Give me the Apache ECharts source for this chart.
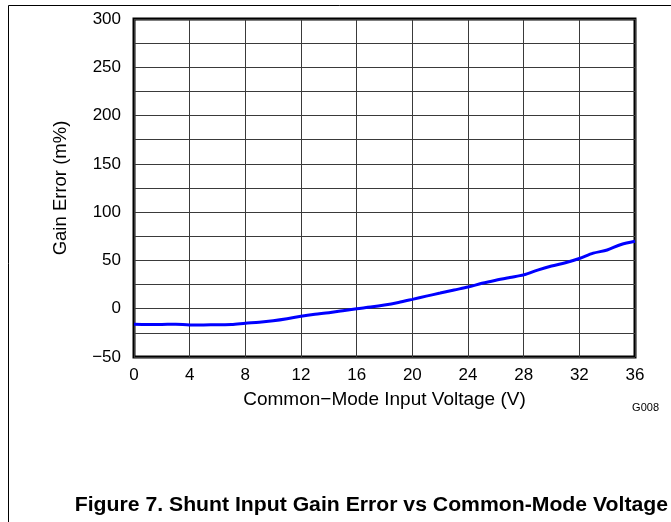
<!DOCTYPE html>
<html>
<head>
<meta charset="utf-8">
<script src="https://cdn.jsdelivr.net/npm/echarts@6/dist/echarts.min.js"></script>
<style>
  html, body { margin: 0; padding: 0; background: #fff; }
  #chart { width: 671px; height: 522px; }
</style>
</head>
<body>
<div id="chart"></div>
<script>
// common-mode voltage (V) and gain error (m%)
const voltage = [0, 1, 2, 3, 4, 5, 6, 7, 8, 9, 10, 11, 12, 13, 14, 15, 16, 17, 18,
  19, 20, 21, 22, 23, 24, 25, 26, 27, 28, 29, 30, 31, 32, 33, 34, 35, 36];
const gainError = [-16.2, -16.4, -16.3, -16, -16.9, -16.8, -16.6, -16.4, -15.1, -14, -12.4,
  -10.3, -7.8, -5.8, -4.2, -2, 0, 1.7, 3.8, 6.5, 9.7, 13, 16.2, 19.4, 22.4, 26.3, 29.5, 32.3,
  35, 40, 44.2, 47.6, 52, 57.5, 60.8, 66.5, 69.8];

const xTicks = [0, 4, 8, 12, 16, 20, 24, 28, 32, 36];
const yLabels = [-50, 0, 50, 100, 150, 200, 250, 300];

const chart = echarts.init(document.getElementById("chart"));

const fmtNum = (v) => (v < 0 ? "\u2212" + Math.abs(v) : String(v));

chart.setOption({
  animation: false,
  backgroundColor: "#fff",
  grid: {
    left: 134,
    right: 36,
    top: 19,
    bottom: 165,
    outerBoundsMode: "none",
    show: true,
    borderColor: "#000",
    borderWidth: 3,
  },
  xAxis: {
    type: "value",
    min: xTicks[0],
    max: xTicks[xTicks.length - 1],
    interval: 4,
    name: "Common\u2212Mode Input Voltage (V)",
    nameLocation: "middle",
    nameGap: 33,
    nameTextStyle: { fontFamily: "Liberation Sans", fontSize: 19, color: "#000" },
    axisLine: { show: false },
    axisTick: { show: false },
    axisLabel: {
      fontFamily: "Liberation Sans",
      fontSize: 17,
      color: "#000",
      margin: 10,
      formatter: fmtNum,
    },
    splitLine: { show: true, lineStyle: { color: "#3a3a3a", width: 1 } },
  },
  yAxis: {
    type: "value",
    min: yLabels[0],
    max: yLabels[yLabels.length - 1],
    interval: 25,
    name: "Gain Error (m%)",
    nameLocation: "middle",
    nameGap: 64,
    nameRotate: 90,
    nameTextStyle: { fontFamily: "Liberation Sans", fontSize: 18.5, color: "#000" },
    axisLine: { show: false },
    axisTick: { show: false },
    axisLabel: {
      fontFamily: "Liberation Sans",
      fontSize: 17,
      color: "#000",
      margin: 13,
      formatter: (v) => (yLabels.includes(v) ? fmtNum(v) : ""),
    },
    splitLine: { show: true, lineStyle: { color: "#3a3a3a", width: 1 } },
  },
  series: [
    {
      type: "line",
      data: voltage.map((v, i) => [v, gainError[i]]),
      smooth: 0.3,
      showSymbol: false,
      lineStyle: { color: "#0000ff", width: 3 },
      z: 3,
    },
  ],
  graphic: [
    {
      type: "line",
      shape: { x1: 8.5, y1: 5.5, x2: 671, y2: 5.5 },
      style: { stroke: "#000", lineWidth: 1 },
    },
    {
      type: "line",
      shape: { x1: 8.5, y1: 5.5, x2: 8.5, y2: 522 },
      style: { stroke: "#000", lineWidth: 1 },
    },
    {
      type: "text",
      x: 659,
      y: 408,
      style: {
        text: "G008",
        fontFamily: "Liberation Sans",
        fontSize: 11,
        fill: "#000",
        align: "right",
        verticalAlign: "middle",
      },
    },
    {
      type: "text",
      x: 668,
      y: 505,
      scaleX: 1.06,
      style: {
        text: "Figure 7. Shunt Input Gain Error vs Common-Mode Voltage",
        fontFamily: "Liberation Sans",
        fontWeight: "bold",
        fontSize: 20,
        fill: "#000",
        align: "right",
        verticalAlign: "middle",
      },
    },
  ],
});
</script>
</body>
</html>
